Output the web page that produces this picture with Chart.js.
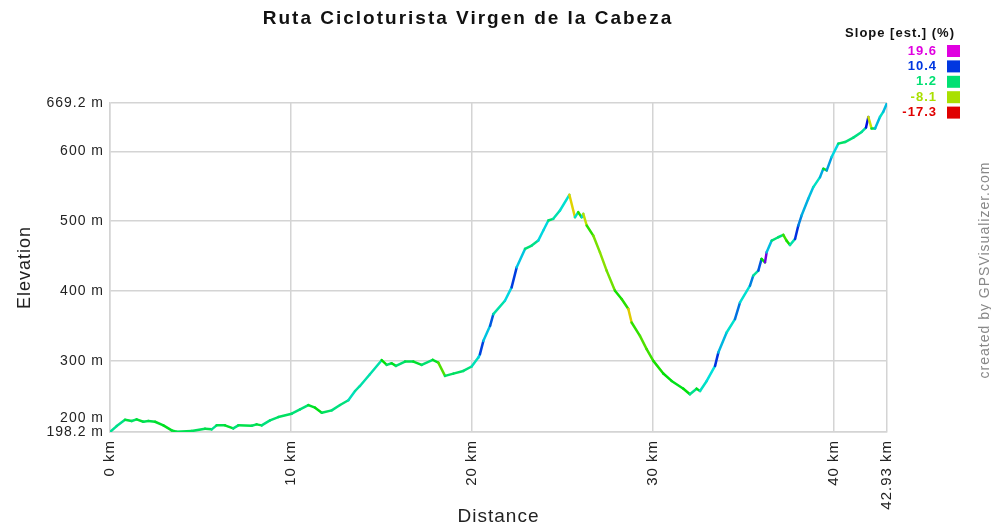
<!DOCTYPE html>
<html>
<head>
<meta charset="utf-8">
<script src="https://cdn.jsdelivr.net/npm/chart.js@4.4.1/dist/chart.umd.min.js"></script>
<style>
  html, body { margin: 0; padding: 0; background: #fff; }
</style>
</head>
<body>
<canvas id="profile" width="991" height="526"></canvas>
<script>
// elevation profile
const distanceKm = [0, 0.37, 0.83, 1.2, 1.47, 1.84, 2.12, 2.49, 2.95, 3.41, 3.68, 4.51, 5.25, 5.62, 5.89, 6.35, 6.81, 7.09, 7.83, 8.1, 8.38, 8.84, 9.3, 10.04, 10.5, 10.96, 11.33, 11.7, 12.25, 12.71, 13.17, 13.54, 13.81, 14.36, 15.01, 15.29, 15.56, 15.8, 16.3, 16.76, 17.22, 17.83, 18.14, 18.51, 18.97, 19.52, 19.98, 20.35, 20.44, 20.63, 21.0, 21.18, 21.82, 22.19, 22.47, 22.93, 23.3, 23.66, 23.94, 24.22, 24.49, 24.86, 25.38, 25.69, 25.87, 26.06, 26.15, 26.34, 26.7, 27.07, 27.44, 27.9, 28.27, 28.64, 28.82, 29.28, 29.65, 30.02, 30.57, 31.03, 31.68, 32.04, 32.41, 32.6, 32.97, 33.43, 33.61, 34.07, 34.53, 34.81, 35.36, 35.54, 35.82, 36.0, 36.19, 36.28, 36.56, 36.92, 37.2, 37.38, 37.57, 37.85, 38.03, 38.21, 38.58, 38.86, 39.23, 39.41, 39.6, 39.87, 40.24, 40.61, 41.07, 41.53, 41.77, 41.9, 42.08, 42.27, 42.54, 42.72, 42.93];
const elevationM = [198.2, 206.7, 215.8, 213.9, 216.3, 212.9, 213.9, 212.9, 207.7, 200.5, 198.5, 199.5, 202.8, 202.0, 207.7, 207.7, 203.4, 207.7, 207.2, 209.1, 207.7, 214.9, 219.6, 224.4, 230.6, 236.8, 233.0, 225.8, 229.2, 236.8, 243.6, 256.9, 264.1, 280.9, 301.0, 294.3, 296.7, 292.8, 299.0, 299.0, 294.3, 301.4, 297.6, 278.5, 281.8, 285.6, 292.0, 304.7, 309.6, 328.7, 350.2, 367.0, 386.1, 405.2, 433.9, 460.3, 465.1, 472.2, 486.6, 501.0, 503.4, 515.3, 537.8, 505.7, 512.9, 505.7, 510.5, 493.8, 479.4, 455.4, 429.2, 400.5, 388.6, 374.2, 355.0, 335.9, 316.8, 300.0, 282.0, 271.3, 260.2, 252.2, 260.2, 256.9, 271.3, 292.8, 311.9, 340.6, 359.9, 383.7, 407.6, 422.0, 429.2, 446.0, 441.1, 455.4, 472.2, 477.0, 480.4, 472.2, 466.0, 474.6, 493.8, 508.1, 532.1, 548.8, 563.1, 575.1, 572.7, 591.8, 611.0, 613.3, 619.6, 627.7, 634.0, 649.2, 632.6, 632.6, 649.2, 656.4, 669.2];

const yTicks = [198.2, 300, 400, 500, 600, 669.2];
const xTicks = [0, 10, 20, 30, 40, 42.93];
const slopeLegend = [19.6, 10.4, 1.2, -8.1, -17.3];

const FONT = '"Liberation Sans", Arial, sans-serif';

// hue runs red (-17.3 %) -> magenta (19.6 %)
function slopeColor(s) {
  const lo = slopeLegend[slopeLegend.length - 1], hi = slopeLegend[0];
  let h = (s - lo) / (hi - lo) * 300;
  h = Math.max(0, Math.min(300, h));
  return 'hsl(' + h + ',100%,44%)';
}

const extras = {
  id: 'extras',
  beforeDraw(chart) {
    chart.ctx.letterSpacing = '1px';
  },
  afterDraw(chart) {
    const ctx = chart.ctx;
    const y = chart.scales.y;
    ctx.save();

    // title
    ctx.letterSpacing = '2px';
    ctx.fillStyle = '#111';
    ctx.font = 'bold 19px ' + FONT;
    ctx.textAlign = 'center';
    ctx.textBaseline = 'middle';
    ctx.fillText('Ruta Cicloturista Virgen de la Cabeza', 468, 19);

    // extra "200 m" label, lifted off the 198.2 one
    ctx.letterSpacing = '1px';
    ctx.font = '14px ' + FONT;
    ctx.fillStyle = '#222';
    ctx.textAlign = 'right';
    ctx.fillText('200 m', 104, y.getPixelForValue(200) - 13);

    // slope legend
    ctx.font = 'bold 13px ' + FONT;
    ctx.fillStyle = '#111';
    ctx.fillText('Slope [est.] (%)', 955, 33);
    slopeLegend.forEach((v, i) => {
      const cy = 51 + i * 15.4;
      ctx.fillStyle = slopeColor(v);
      ctx.fillText(v.toFixed(1), 937, cy);
      ctx.fillRect(947, cy - 6, 13, 12);
    });

    // credit
    ctx.translate(985, 270);
    ctx.rotate(-Math.PI / 2);
    ctx.textAlign = 'center';
    ctx.font = '14px ' + FONT;
    ctx.fillStyle = '#888';
    ctx.fillText('created by GPSVisualizer.com', 0, 0);
    ctx.restore();
  }
};

const points = distanceKm.map((d, i) => ({ x: d, y: elevationM[i] }));

new Chart(document.getElementById('profile'), {
  type: 'line',
  data: {
    datasets: [{
      data: points,
      borderWidth: 2.5,
      borderCapStyle: 'round',
      borderJoinStyle: 'round',
      pointRadius: 0,
      tension: 0,
      segment: {
        borderColor: c => slopeColor((c.p1.parsed.y - c.p0.parsed.y) / ((c.p1.parsed.x - c.p0.parsed.x) * 10))
      }
    }]
  },
  options: {
    responsive: false,
    animation: false,
    devicePixelRatio: 1,
    layout: { padding: { left: 0, top: 103, right: 104, bottom: 0 } },
    plugins: { legend: { display: false }, tooltip: { enabled: false }, title: { display: false } },
    scales: {
      x: {
        type: 'linear',
        min: 0,
        max: 42.93,
        afterBuildTicks: s => { s.ticks = xTicks.map(v => ({ value: v })); },
        afterFit: s => { s.height = 94; },
        grid: { color: '#d4d4d4', lineWidth: 1.5, drawTicks: false },
        border: { color: '#d4d4d4', width: 1.5 },
        ticks: {
          autoSkip: false,
          minRotation: 90,
          maxRotation: 90,
          padding: 8,
          color: '#222',
          font: { family: FONT, size: 15 },
          callback: v => v + ' km'
        },
        title: {
          display: true,
          text: 'Distance',
          color: '#222',
          font: { family: FONT, size: 19, lineHeight: 1 },
          padding: { top: 0, bottom: 0 }
        }
      },
      y: {
        min: 198.2,
        max: 669.2,
        afterBuildTicks: s => { s.ticks = yTicks.map(v => ({ value: v })); },
        afterFit: s => { s.width = 110; },
        grid: { color: '#d4d4d4', lineWidth: 1.5, drawTicks: false },
        border: { color: '#d4d4d4', width: 1.5 },
        ticks: {
          padding: 6,
          color: '#222',
          font: { family: FONT, size: 14 },
          callback: v => v + ' m'
        },
        title: {
          display: true,
          text: 'Elevation',
          color: '#222',
          font: { family: FONT, size: 18 },
          padding: { top: 14, bottom: 0 }
        }
      }
    }
  },
  plugins: [extras]
});
</script>
</body>
</html>
